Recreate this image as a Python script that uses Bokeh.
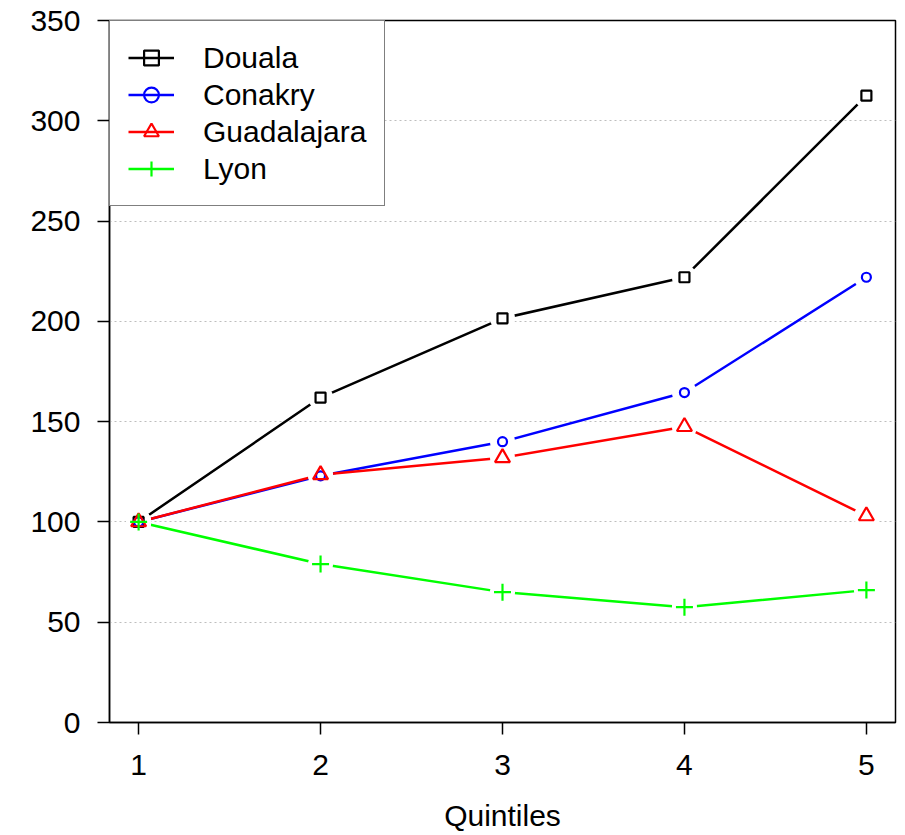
from bokeh.plotting import figure
from bokeh.models import Legend, LegendItem, FixedTicker, Range1d
from bokeh.embed import file_html
from bokeh.resources import INLINE

quintiles = [1, 2, 3, 4, 5]
douala = [100, 162, 201.5, 222, 312.5]
conakry = [100, 123, 140, 164.5, 222]
guadalajara = [100, 123.5, 132, 147.5, 103]
lyon = [100, 79, 65, 57.5, 66]

series = [
    ("Douala", douala, "#000000", "square", 10),
    ("Conakry", conakry, "#0000FF", "circle", 9),
    ("Guadalajara", guadalajara, "#FF0000", "triangle", 15),
    ("Lyon", lyon, "#00FF00", "cross", 17),
]

FONT = "Liberation Sans"

p = figure(width=903, height=834, output_backend="svg", toolbar_location=None,
           x_range=Range1d(0.84, 5.16), y_range=Range1d(0, 350),
           min_border_left=109, min_border_right=8, min_border_top=20,
           min_border_bottom=112)
p.background_fill_color = "white"
p.border_fill_color = "white"
p.outline_line_color = "black"
p.outline_line_width = 1.5

# grid
p.xgrid.grid_line_color = None
p.ygrid.ticker = FixedTicker(ticks=[50, 100, 150, 200, 250, 300])
p.ygrid.grid_line_color = "#BEBEBE"
p.ygrid.grid_line_dash = "2 3"
p.ygrid.grid_line_width = 1

for ax in (p.xaxis[0], p.yaxis[0]):
    ax.axis_line_color = "black"
    ax.axis_line_width = 1.5
    ax.major_tick_line_color = "black"
    ax.major_tick_line_width = 1.5
    ax.major_tick_out = 12
    ax.major_tick_in = 0
    ax.minor_tick_line_color = None
    ax.major_label_text_font = FONT
    ax.major_label_text_font_size = "30px"
    ax.major_label_text_color = "black"

p.xaxis.ticker = FixedTicker(ticks=quintiles)
p.yaxis.ticker = FixedTicker(ticks=[0, 50, 100, 150, 200, 250, 300, 350])
p.yaxis.major_label_standoff = 17
p.xaxis.major_label_standoff = 20
p.xaxis.axis_label = "Quintiles"
p.xaxis.axis_label_text_font = FONT
p.xaxis.axis_label_text_font_size = "30px"
p.xaxis.axis_label_text_font_style = "normal"
p.xaxis.axis_label_text_color = "black"
p.xaxis.axis_label_standoff = 21

line_rs = []
for name, vals, color, marker, size in series:
    r = p.line(quintiles, vals, line_color=color, line_width=2.5)
    line_rs.append(r)

# gaps around points (type="b" look)
for name, vals, color, marker, size in series:
    p.scatter(quintiles, vals, marker="circle", size=25, fill_color="white",
              line_color=None)

marker_rs = []
for name, vals, color, marker, size in series:
    r = p.scatter(quintiles, vals, marker=marker, size=size, fill_color=None,
                  line_color=color, line_width=2.2)
    marker_rs.append(r)

items = [LegendItem(label=s[0], renderers=[lr, mr])
         for s, lr, mr in zip(series, line_rs, marker_rs)]
legend = Legend(items=items, location="top_left", margin=0, padding=18,
                spacing=0, glyph_width=46, glyph_height=37, label_height=37,
                label_standoff=29,
                label_text_font=FONT, label_text_font_size="30px",
                label_text_color="black",
                border_line_color="black", border_line_width=1.5,
                background_fill_color="white", background_fill_alpha=1.0)
p.add_layout(legend, "center")

open("out.html", "w").write(file_html(p, INLINE))
